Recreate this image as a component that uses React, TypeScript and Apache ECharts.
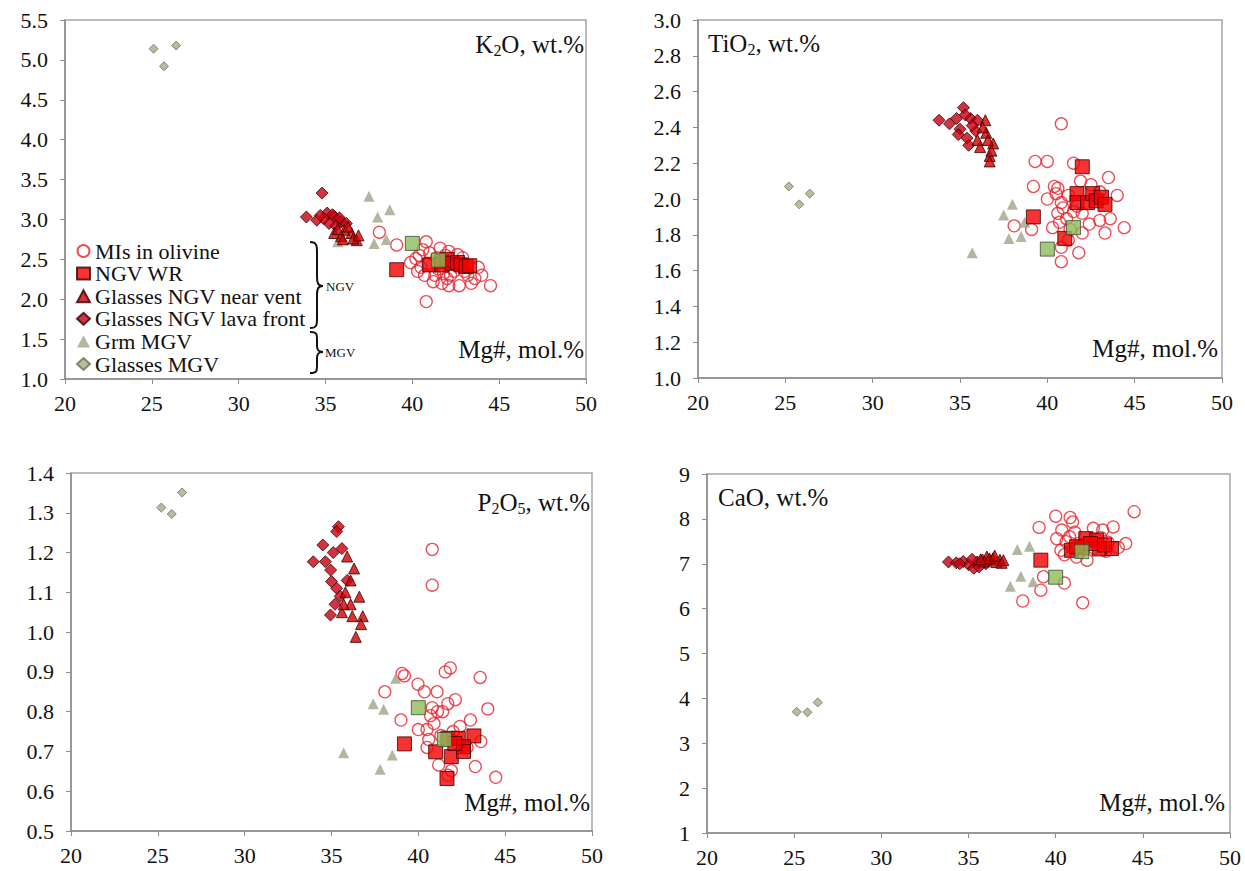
import React, { useEffect, useRef } from "react";
import * as echarts from "echarts";

const FONT = "Liberation Serif";
const BASE_SIZE = 25;

// ---------- K2O panel ----------
const mi_K2O = [[38.1,2.84],[39.1,2.68],[40.8,2.72],[40.4,2.55],[41.6,2.64],[42.1,2.60],[42.6,2.56],[44.0,2.30],[44.5,2.17],[40.8,1.97],[39.9,2.46],[40.7,2.30],[41.3,2.30],[42.0,2.26],[42.7,2.17],[42.1,2.17],[43.2,2.30],[43.6,2.26],[41.5,2.38],[40.5,2.40],[40.2,2.51],[43.8,2.40],[41.0,2.58],[41.9,2.55],[42.4,2.35],[41.2,2.22],[41.7,2.20],[43.0,2.35],[40.9,2.45],[42.9,2.52],[41.4,2.52],[40.6,2.62],[42.2,2.30],[43.4,2.20],[41.8,2.32],[40.3,2.35]];
const wr_K2O = [[39.1,2.37],[41.0,2.43],[41.7,2.47],[41.7,2.43],[42.0,2.50],[42.3,2.45],[42.6,2.46],[42.8,2.43],[43.1,2.41],[43.3,2.42]];
const vent_K2O = [[35.5,2.83],[36.1,2.87],[36.5,2.83],[36.8,2.74],[35.9,2.79],[36.3,2.91],[36.6,2.76],[36.0,2.75],[35.7,2.88],[36.9,2.80]];
const lava_K2O = [[33.9,3.03],[34.5,2.99],[34.8,3.33],[35.1,3.08],[35.5,3.04],[35.2,2.95],[35.9,2.97],[34.9,3.01],[35.6,2.92],[36.2,2.95],[35.4,3.06],[34.7,3.05],[35.8,3.02]];
const grm_K2O = [[37.5,3.29],[38.0,3.03],[38.7,3.12],[35.7,2.72],[37.8,2.70],[38.5,2.75]];
const glassMGV_K2O = [[25.1,5.14],[25.7,4.92],[26.4,5.18]];
const wrMGV_K2O = [[40.0,2.70],[41.5,2.49]];

// ---------- TiO2 panel ----------
const mi_TiO2 = [[40.8,2.42],[39.3,2.21],[40.0,2.21],[41.5,2.20],[43.5,2.12],[39.2,2.07],[40.4,2.07],[41.9,2.10],[40.0,2.00],[40.5,2.03],[40.8,1.98],[44.0,2.02],[40.6,1.92],[41.1,1.89],[38.1,1.85],[39.1,1.83],[40.3,1.84],[40.7,1.87],[41.3,1.83],[42.0,1.81],[43.0,1.88],[43.6,1.89],[43.3,1.81],[44.4,1.84],[40.8,1.73],[41.8,1.70],[40.8,1.65],[42.0,1.92],[41.7,1.96],[40.6,2.06],[41.2,2.02],[42.5,2.08],[43.0,2.04],[40.9,1.95],[41.5,1.93],[41.2,1.77],[42.4,1.86]];
const wr_TiO2 = [[39.2,1.90],[41.0,1.78],[41.7,2.03],[41.7,1.98],[42.0,2.18],[42.3,1.98],[42.6,2.03],[42.8,1.99],[43.1,2.01],[43.3,1.97]];
const vent_TiO2 = [[36.7,2.24],[36.7,2.21],[36.45,2.44],[36.5,2.37],[36.9,2.31],[36.15,2.29],[36.6,2.33],[36.3,2.40],[36.0,2.33],[36.8,2.27]];
const lava_TiO2 = [[33.8,2.44],[34.4,2.42],[35.2,2.51],[34.8,2.45],[35.6,2.45],[35.0,2.39],[35.4,2.34],[35.9,2.38],[36.0,2.44],[35.3,2.47],[34.9,2.36],[35.7,2.41],[35.5,2.30]];
const grm_TiO2 = [[37.5,1.91],[38.0,1.97],[38.7,1.87],[35.7,1.70],[37.8,1.78],[38.5,1.79]];
const glassMGV_TiO2 = [[25.2,2.07],[25.8,1.97],[26.4,2.03]];
const wrMGV_TiO2 = [[40.0,1.72],[41.5,1.84]];

// ---------- P2O5 panel ----------
const mi_P2O5 = [[40.8,1.208],[40.8,1.118],[39.06,0.896],[39.2,0.89],[41.55,0.90],[41.84,0.91],[43.56,0.886],[39.98,0.869],[40.35,0.85],[41.08,0.85],[38.07,0.85],[42.13,0.83],[41.7,0.82],[44.0,0.807],[40.8,0.81],[40.7,0.79],[41.1,0.80],[41.4,0.80],[39.0,0.779],[43.0,0.779],[40.0,0.755],[40.5,0.755],[42.4,0.763],[43.6,0.725],[40.5,0.71],[41.17,0.666],[41.9,0.652],[43.28,0.662],[44.46,0.635],[42.8,0.71],[42.3,0.72],[41.7,0.64],[40.9,0.77],[41.3,0.74],[42.0,0.75],[40.6,0.73]];
const wr_P2O5 = [[39.2,0.719],[41.65,0.632],[41.0,0.699],[41.9,0.687],[43.2,0.739],[41.7,0.733],[42.3,0.733],[42.6,0.712],[42.6,0.70],[42.1,0.72]];
const vent_P2O5 = [[35.9,1.19],[36.3,1.16],[36.1,1.13],[36.6,1.089],[36.1,1.07],[35.6,1.05],[36.8,1.04],[36.7,1.02],[36.4,0.988],[35.7,1.07],[36.2,1.04],[35.8,1.10]];
const lava_P2O5 = [[35.4,1.265],[35.3,1.253],[34.5,1.219],[33.95,1.177],[34.65,1.177],[34.95,1.156],[35.1,1.20],[35.6,1.21],[35.0,1.127],[35.3,1.11],[34.94,1.043],[35.5,1.09],[35.9,1.13],[35.2,1.07]];
const grm_P2O5 = [[37.4,0.82],[38.0,0.806],[38.7,0.884],[35.7,0.697],[37.8,0.655],[38.5,0.691]];
const glassMGV_P2O5 = [[25.2,1.313],[25.8,1.297],[26.4,1.351]];
const wrMGV_P2O5 = [[40.0,0.81],[41.5,0.73]];

// ---------- CaO panel ----------
const mi_CaO = [[44.5,8.16],[40.0,8.06],[40.83,8.03],[40.97,7.93],[39.05,7.81],[40.35,7.75],[42.16,7.79],[42.7,7.75],[43.3,7.82],[40.06,7.56],[40.6,7.49],[44.02,7.45],[40.3,7.30],[41.2,7.15],[41.8,7.08],[43.6,7.36],[39.3,6.71],[39.15,6.41],[40.5,6.57],[38.11,6.17],[41.55,6.13],[41.0,7.34],[42.2,7.35],[41.4,7.27],[40.8,7.60],[41.6,7.45],[42.6,7.58],[43.0,7.48],[40.5,7.20],[42.9,7.28],[41.1,7.70]];
const wr_CaO = [[39.15,7.08],[41.73,7.56],[43.2,7.34],[40.9,7.30],[42.35,7.53],[42.5,7.33],[41.5,7.35],[42.0,7.45],[42.8,7.42],[41.2,7.38]];
const vent_CaO = [[36.8,7.09],[36.05,7.16],[36.4,7.12],[36.6,7.04],[35.9,7.05],[36.2,7.12],[36.9,7.02],[35.7,7.10],[36.5,7.18],[37.0,7.08]];
const lava_CaO = [[33.85,7.04],[34.3,7.02],[34.7,7.05],[35.0,6.98],[35.3,6.90],[35.5,7.04],[35.8,7.08],[35.2,7.10],[34.5,7.00],[36.0,7.00],[35.6,6.93],[36.2,7.06]];
const grm_CaO = [[37.4,6.50],[38.0,6.72],[38.7,6.60],[35.7,7.05],[37.8,7.32],[38.5,7.39]];
const glassMGV_CaO = [[25.15,3.70],[25.76,3.69],[26.35,3.91]];
const wrMGV_CaO = [[40.0,6.70],[41.5,7.27]];

// axis settings
const xTicks = { min: 20, max: 50, interval: 5 };
const yRanges = [
  { min: 1.0, max: 5.5, interval: 0.5, digits: 1 },
  { min: 1.0, max: 3.0, interval: 0.2, digits: 1 },
  { min: 0.5, max: 1.4, interval: 0.1, digits: 1 },
  { min: 1, max: 9, interval: 1, digits: 0 },
];

const seriesNames = ["MIs in olivine", "NGV WR", "Glasses NGV near vent", "Glasses NGV lava front", "Grm MGV", "Glasses MGV", "MGV WR"];

const panelData = [
  [mi_K2O, wr_K2O, vent_K2O, lava_K2O, grm_K2O, glassMGV_K2O, wrMGV_K2O],
  [mi_TiO2, wr_TiO2, vent_TiO2, lava_TiO2, grm_TiO2, glassMGV_TiO2, wrMGV_TiO2],
  [mi_P2O5, wr_P2O5, vent_P2O5, lava_P2O5, grm_P2O5, glassMGV_P2O5, wrMGV_P2O5],
  [mi_CaO, wr_CaO, vent_CaO, lava_CaO, grm_CaO, glassMGV_CaO, wrMGV_CaO],
];

const markerStyles: any[] = [
  { symbol: "circle", symbolSize: 12, z: 2, itemStyle: { color: "rgba(255,255,255,0)", borderColor: "#e8202a", borderWidth: 1.3 } },
  { symbol: "rect", symbolSize: 14, z: 6, itemStyle: { color: "#f20000", borderColor: "#3a0000", borderWidth: 1 } },
  { symbol: "triangle", symbolSize: 11, z: 5, itemStyle: { color: "#d00000", borderColor: "#3a0000", borderWidth: 1 } },
  { symbol: "diamond", symbolSize: 12, z: 4, itemStyle: { color: "#c80010", borderColor: "#3a0000", borderWidth: 1 } },
  { symbol: "triangle", symbolSize: 11, z: 3, itemStyle: { color: "#9ea58a" } },
  { symbol: "diamond", symbolSize: 9, z: 3, itemStyle: { color: "#a6ad88", borderColor: "#6b7052", borderWidth: 1 } },
  { symbol: "rect", symbolSize: 14, z: 7, itemStyle: { color: "#8cbc5a", borderColor: "#45483a", borderWidth: 1 } },
];

const grids = [
  { left: 65, top: 20, width: 521, height: 359 },
  { left: 698, top: 20, width: 524, height: 358 },
  { left: 71, top: 473, width: 521, height: 358 },
  { left: 707, top: 474, width: 523, height: 359 },
];

const LEGEND_TOP = 235;
const LEGEND_GAP = 0.6;
const LEGEND_ROW = 22;

const brace1 = "M310,242 C317,242 317,246 317,253 L317,277 C317,283 318,286 323,286 C318,286 317,289 317,295 L317,318 C317,325 317,328 310,328";
const brace2 = "M310,332 C317,332 317,334 317,339 L317,346 C317,350 318,352 323,352 C318,352 317,354 317,358 L317,366 C317,371 317,373 310,373";

function label(textParts: string, x: number, y: number, align: string) {
  return {
    type: "text",
    x,
    y,
    z: 100,
    style: {
      text: textParts,
      fontFamily: FONT,
      fontSize: 25,
      align,
      textAlign: align,
      verticalAlign: "middle",
      textVerticalAlign: "middle",
      fill: "#111",
      rich: {
        n: { fontFamily: FONT, fontSize: 25, fill: "#111", color: "#111" },
        s: { fontFamily: FONT, fontSize: 16, fill: "#111", color: "#111", padding: [12, 0, 0, 0] },
      },
    },
  };
}

// labels drawn at the base size and scaled to the wanted size
function plainText(text: string, x: number, y: number, size: number, align: string, vAlign: string) {
  const k = size / BASE_SIZE;
  return {
    type: "text",
    x,
    y,
    scaleX: k,
    scaleY: k,
    z: 100,
    style: {
      text: "{n|" + text + "}",
      fontFamily: FONT,
      fontSize: BASE_SIZE,
      fill: "#111",
      align,
      textAlign: align,
      verticalAlign: vAlign,
      textVerticalAlign: vAlign,
      rich: { n: { fontFamily: FONT, fontSize: BASE_SIZE, fill: "#111", color: "#111" } },
    },
  };
}

export default function App() {
  const ref = useRef<HTMLDivElement>(null);
  useEffect(() => {
    if (!ref.current) return;
    echarts.graphic.registerShape("brace1", (echarts.graphic as any).extendPath(brace1, {}));
    echarts.graphic.registerShape("brace2", (echarts.graphic as any).extendPath(brace2, {}));
    const chart = echarts.init(ref.current, undefined, { renderer: "svg" });

    const axisLineStyle = { color: "#8c8c8c", width: 1.5 };
    const xAxis = grids.map((_, i) => ({
      type: "value",
      gridIndex: i,
      min: xTicks.min,
      max: xTicks.max,
      interval: xTicks.interval,
      axisLine: { show: true, onZero: false, lineStyle: axisLineStyle },
      axisTick: { show: true, length: 5, lineStyle: { color: "#8c8c8c" } },
      splitLine: { show: false },
      axisLabel: { show: false },
    }));
    const yAxis = yRanges.map((r, i) => ({
      type: "value",
      gridIndex: i,
      min: r.min,
      max: r.max,
      interval: r.interval,
      axisLine: { show: true, onZero: false, lineStyle: axisLineStyle },
      axisTick: { show: true, length: 5, lineStyle: { color: "#8c8c8c" } },
      splitLine: { show: false },
      axisLabel: { show: false },
    }));

    const series: any[] = [];
    panelData.forEach((arrs, p) => {
      arrs.forEach((d, s) => {
        series.push({
          type: "scatter",
          name: seriesNames[s],
          xAxisIndex: p,
          yAxisIndex: p,
          data: d,
          ...markerStyles[s],
        });
      });
    });

    chart.setOption({
      animation: false,
      backgroundColor: "#ffffff",
      textStyle: { fontFamily: FONT },
      grid: grids.map((g) => ({ ...g, show: true, borderColor: "#a6a6a6", borderWidth: 1.5, backgroundColor: "transparent" })),
      xAxis,
      yAxis,
      legend: {
        data: seriesNames.slice(0, 6),
        orient: "vertical",
        left: 71,
        top: LEGEND_TOP,
        itemWidth: 13,
        itemHeight: 12,
        itemGap: LEGEND_GAP,
        selectedMode: false,
        formatter: () => " ",
        textStyle: { fontSize: 22, lineHeight: LEGEND_ROW, color: "#111" },
      },
      series,
    });

    // tick labels placed through the axes' own scales
    const g: any[] = [];
    grids.forEach((_, i) => {
      const r = yRanges[i];
      const nx = Math.round((xTicks.max - xTicks.min) / xTicks.interval);
      for (let k = 0; k <= nx; k++) {
        const v = xTicks.min + k * xTicks.interval;
        const [px, py] = chart.convertToPixel({ gridIndex: i }, [v, r.min]) as number[];
        g.push(plainText(String(v), px, py + 13, 22, "center", "top"));
      }
      const ny = Math.round((r.max - r.min) / r.interval);
      for (let k = 0; k <= ny; k++) {
        const v = r.min + k * r.interval;
        const [px, py] = chart.convertToPixel({ gridIndex: i }, [xTicks.min, v]) as number[];
        g.push(plainText(v.toFixed(r.digits), px - 17, py, 22, "right", "middle"));
      }
    });
    // legend labels
    seriesNames.slice(0, 6).forEach((name, k) => {
      g.push(plainText(name, 95, LEGEND_TOP + 5 + LEGEND_ROW / 2 + k * (LEGEND_ROW + LEGEND_GAP), 22, "left", "middle"));
    });

    g.push(
      label("{n|K}{s|2}{n|O, wt.%}", 584, 44, "right"),
      label("{n|Mg#, mol.%}", 584, 349, "right"),
      label("{n|TiO}{s|2}{n|, wt.%}", 708, 43, "left"),
      label("{n|Mg#, mol.%}", 1218, 348, "right"),
      label("{n|P}{s|2}{n|O}{s|5}{n|, wt.%}", 590, 502, "right"),
      label("{n|Mg#, mol.%}", 590, 802, "right"),
      label("{n|CaO, wt.%}", 718, 497, "left"),
      label("{n|Mg#, mol.%}", 1225, 802, "right"),
      { type: "brace1", z: 100, style: { stroke: "#111", fill: "none", lineWidth: 2 } },
      { type: "brace2", z: 100, style: { stroke: "#111", fill: "none", lineWidth: 2 } },
      plainText("NGV", 326, 286, 13, "left", "middle"),
      plainText("MGV", 325, 352, 13, "left", "middle")
    );

    chart.setOption({ graphic: g });
    return () => chart.dispose();
  }, []);

  return (
    <div
      ref={ref}
      style={{ position: "absolute", left: 0, top: 0, width: 1245, height: 871, background: "#fff" }}
    />
  );
}
